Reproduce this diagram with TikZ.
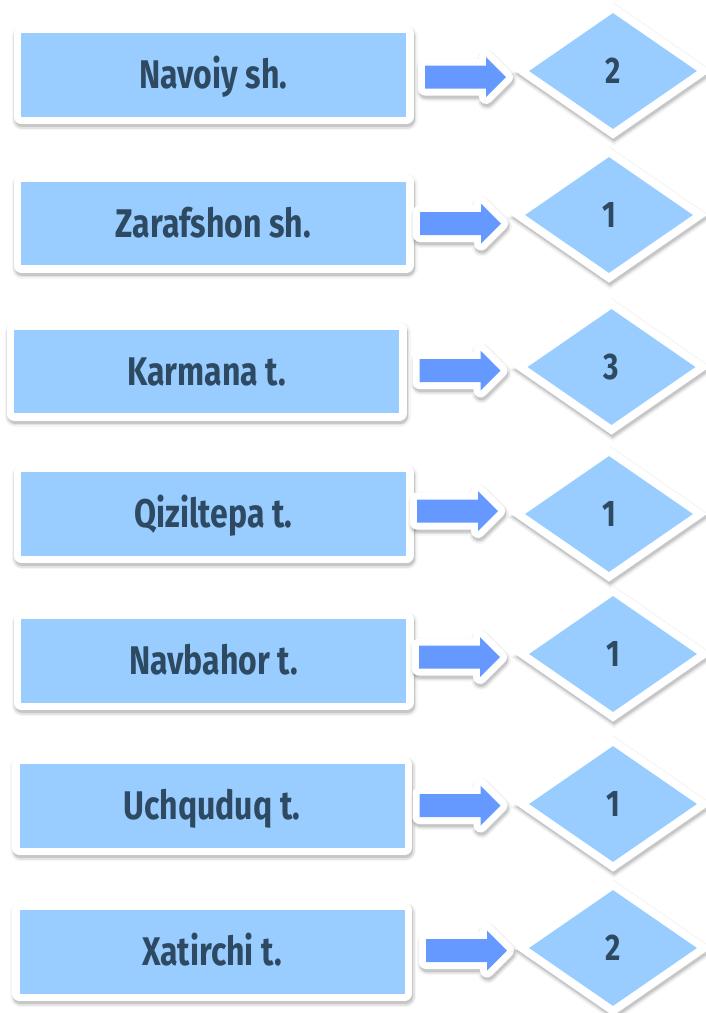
\documentclass[tikz,border=0pt]{standalone}
\usepackage{fontspec}
\setmainfont{Fira Sans}[FakeStretch=0.8]
\usetikzlibrary{shapes.geometric}
\definecolor{boxfill}{RGB}{153,204,255}
\definecolor{arrowfill}{RGB}{102,153,255}
\definecolor{txt}{RGB}{45,74,98}
\tikzset{
  shadowed/.style 2 args={
    preaction={draw=black, draw opacity=0.04, line width=#1+6pt, line join=#2, transform canvas={shift={(1pt,-3pt)}}},
    preaction={draw=black, draw opacity=0.07, line width=#1+3pt, line join=#2, transform canvas={shift={(1pt,-3pt)}}},
    preaction={draw=black, draw opacity=0.12, line width=#1, line join=#2, transform canvas={shift={(1pt,-3pt)}}},
    preaction={draw=white, line width=#1, line join=#2},
  },
  rectbox/.style={rectangle, minimum width=385pt, minimum height=83.5pt, inner sep=0pt,
    fill=boxfill, text=txt, font=\bfseries\fontsize{40}{40}\selectfont,
    text height=27.6pt, text depth=0pt, shadowed={15pt}{round}},
  diam/.style={diamond, minimum width=168pt, minimum height=116pt, inner sep=0pt,
    fill=boxfill, text=txt, font=\bfseries\fontsize{37}{37}\selectfont,
    text height=25.4pt, text depth=0pt, shadowed={16pt}{miter}},
  arrowshape/.style={fill=arrowfill, shadowed={14pt}{round}},
}
\newcommand\blockarr[2]{%
  \path[arrowshape] (#1,#2-11.5) -- (#1+61,#2-11.5) -- (#1+61,#2-20) -- (#1+81,#2)
    -- (#1+61,#2+20) -- (#1+61,#2+11.5) -- (#1,#2+11.5) -- cycle;}
\begin{document}
\begin{tikzpicture}[x=1pt,y=-1pt]
\fill[white] (0,0) rectangle (705,1013);
\useasboundingbox (0,0) rectangle (705,1013);
% row 1
\node[rectbox] (r1) at (213.5,75) {Navoiy sh.};
\blockarr{425}{77}
\node[diam] (d1) at (613,71) {2};
% row 2
\node[rectbox] (r2) at (213.5,223.5) {Zarafshon sh.};
\blockarr{420}{223.5}
\node[diam] (d2) at (609,215) {1};
% row 3
\node[rectbox] (r3) at (206.5,371.5) {Karmana t.};
\blockarr{419.5}{370.5}
\node[diam] (d3) at (611.5,367) {3};
% row 4
\node[rectbox] (r4) at (213.5,514) {Qiziltepa t.};
\blockarr{417}{511}
\node[diam] (d4) at (609,514) {1};
% row 5
\node[rectbox] (r5) at (213.5,661) {Navbahor t.};
\blockarr{419}{657}
\node[diam] (d5) at (613,654) {1};
% row 6
\node[rectbox] (r6) at (212,806) {Uchquduq t.};
\blockarr{419.5}{805.5}
\node[diam] (d6) at (613,804) {1};
% row 7
\node[rectbox] (r7) at (212,952) {Xatirchi t.};
\blockarr{426}{950.5}
\node[diam] (d7) at (613,948) {2};
\end{tikzpicture}
\end{document}
